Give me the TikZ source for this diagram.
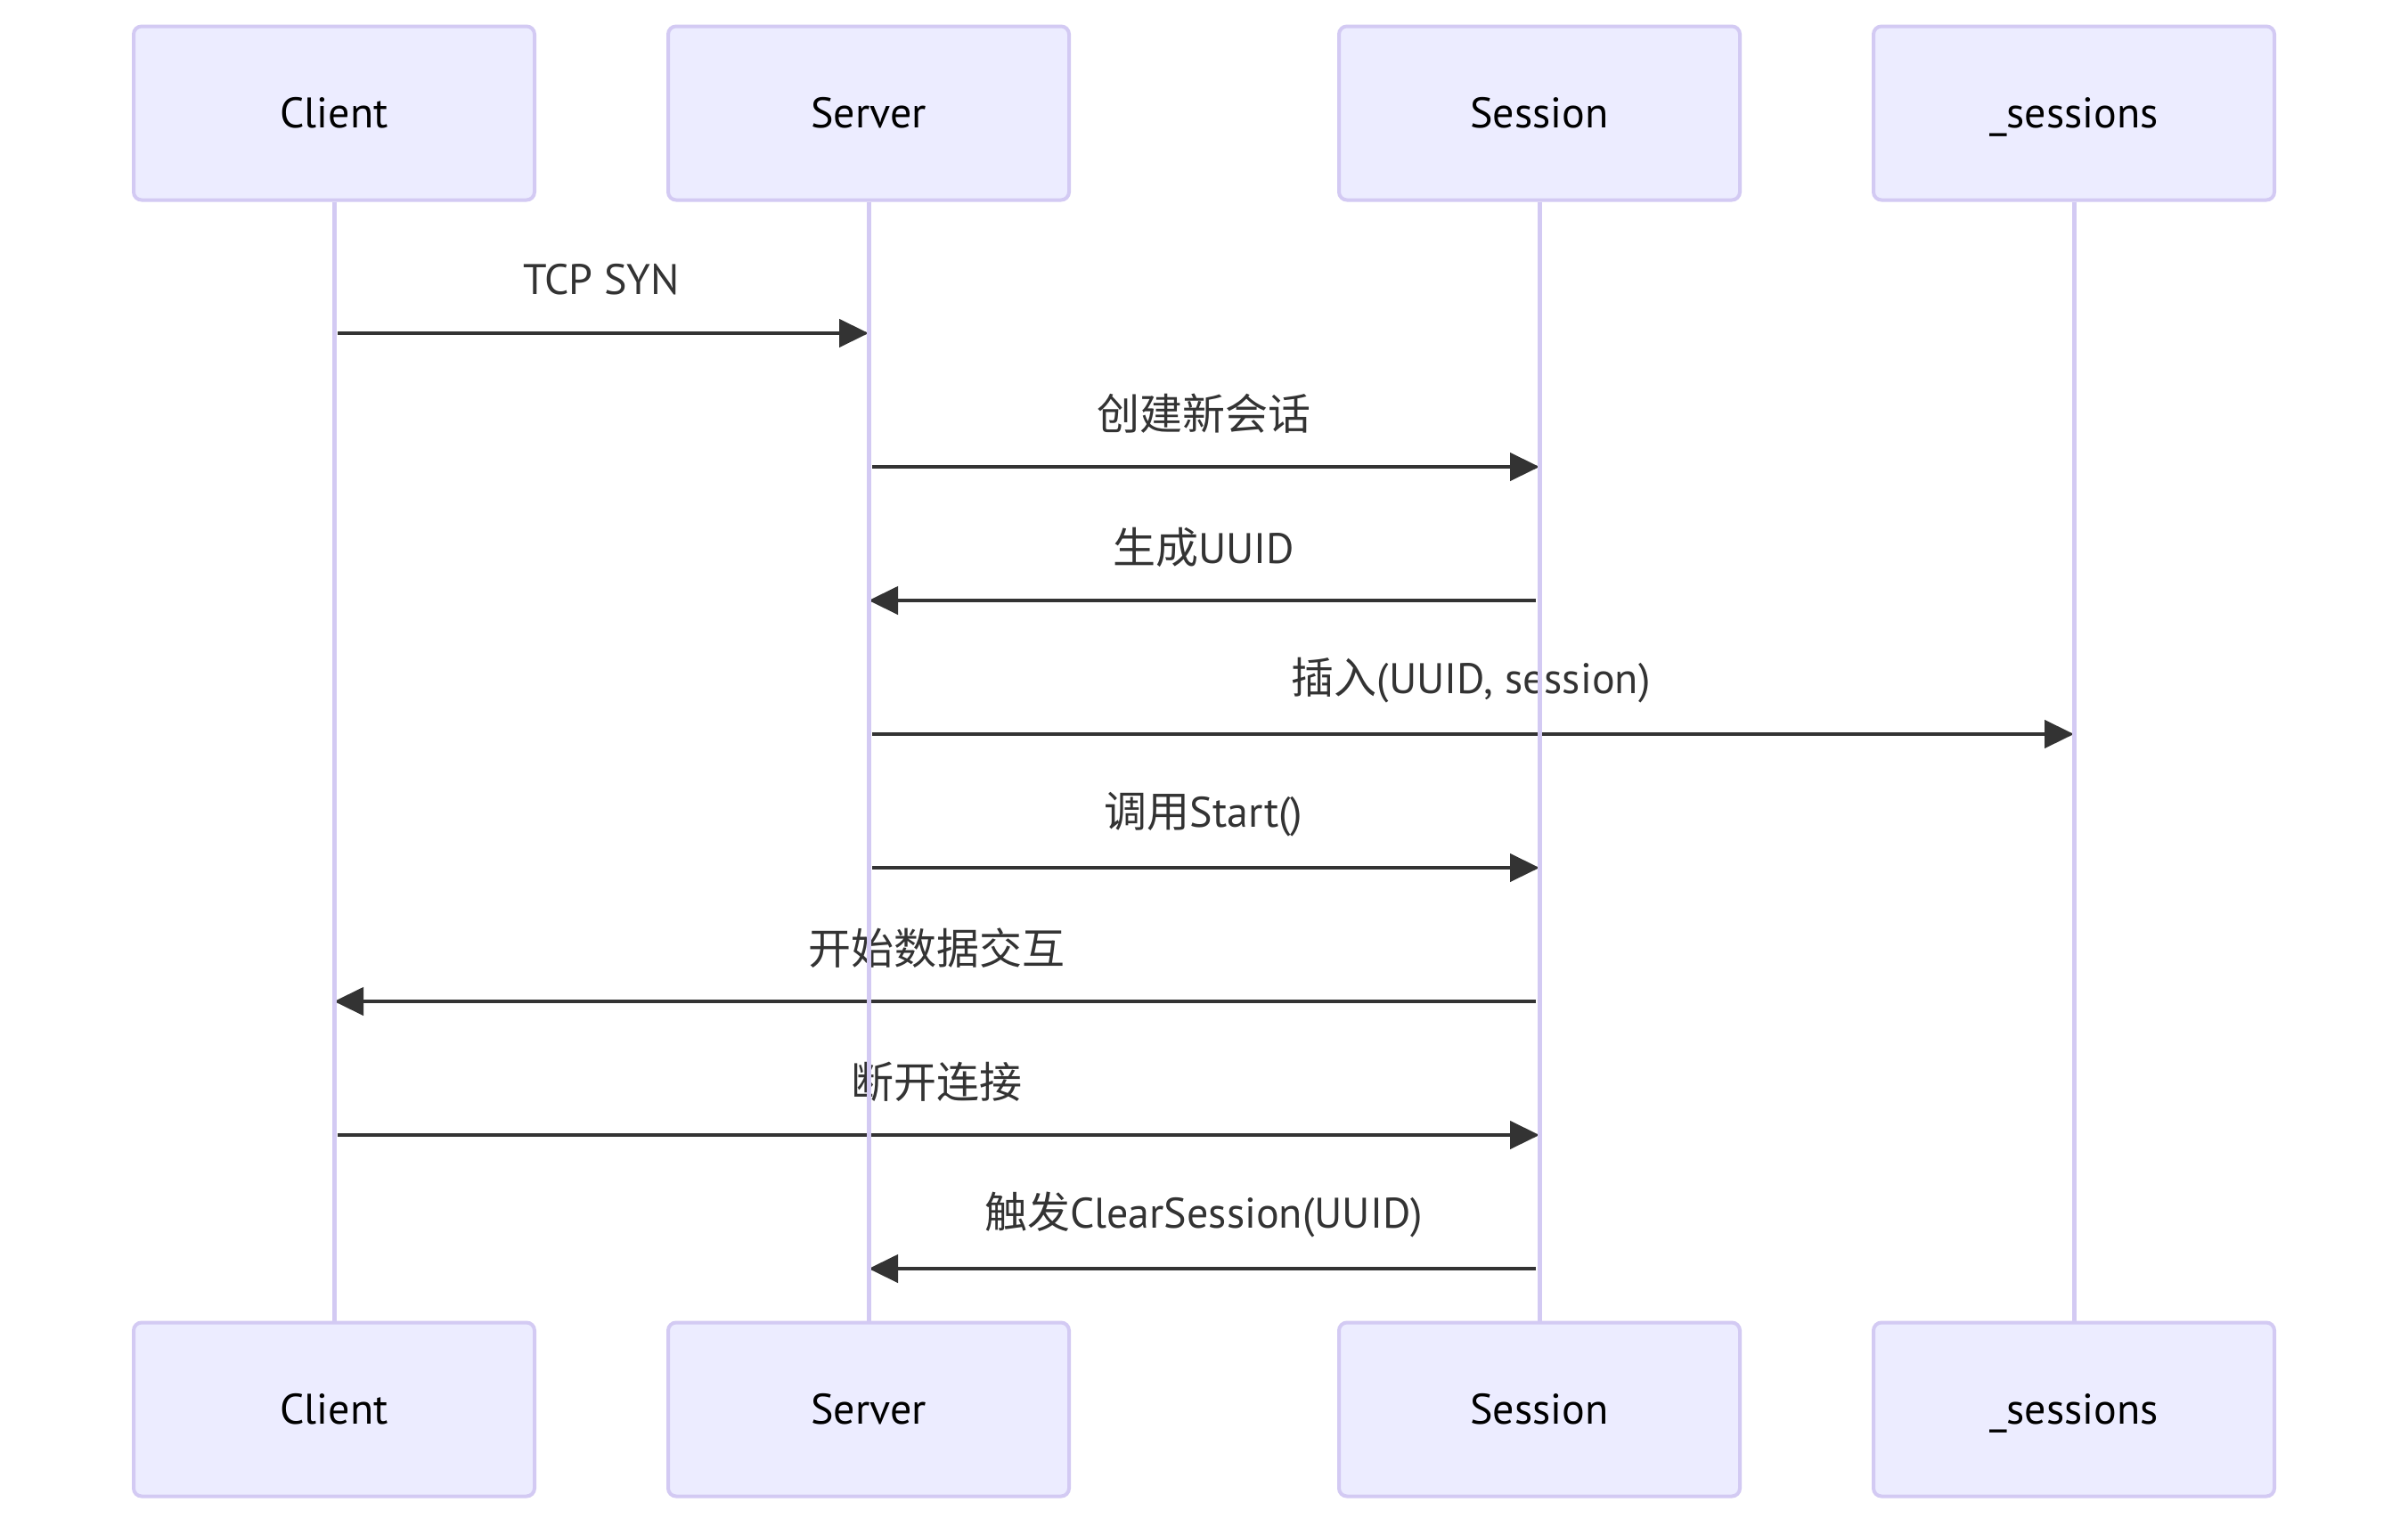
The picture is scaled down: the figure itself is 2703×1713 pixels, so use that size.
\documentclass[tikz,border=0pt]{standalone}
\usepackage{fontspec}
\setmainfont{PT Sans}
\newfontfamily\cjk{Noto Sans CJK SC}
\usetikzlibrary{arrows.meta}
\definecolor{actfill}{HTML}{ECECFF}
\definecolor{actline}{HTML}{D3CAF3}
\definecolor{msgcol}{HTML}{333333}
\tikzset{
  x=1pt,y=-1pt,
  actor/.style={draw=actline,line width=4pt,fill=actfill,rounded corners=9pt,minimum width=450pt,minimum height=195pt,inner sep=0pt,font=\fontsize{48}{58}\selectfont,text=black,text height=38pt,text depth=6pt},
  life/.style={draw=actline,line width=5pt},
  msg/.style={draw=msgcol,line width=4.5pt,-{Triangle[length=33pt,width=31pt]}},
  lbl/.style={font=\fontsize{48}{58}\selectfont,text=msgcol,inner sep=0pt}
}
\begin{document}
\begin{tikzpicture}
\useasboundingbox (0,0) rectangle (2703,1713);
\fill[white] (0,0) rectangle (2703,1713);
% actors top
\node[actor] (c1) at (375,127) {Client};
\node[actor] (s1) at (975,127) {Server};
\node[actor] (e1) at (1728,127) {Session};
\node[actor] (m1) at (2328,127) {\_sessions};
% actors bottom
\node[actor] (c2) at (375,1582) {Client};
\node[actor] (s2) at (975,1582) {Server};
\node[actor] (e2) at (1728,1582) {Session};
\node[actor] (m2) at (2328,1582) {\_sessions};
% message coordinates
\foreach \n/\y in {1/374,2/524,3/674,4/824,5/974,6/1124,7/1274,8/1424}{
  \coordinate (C\n) at (375,\y);
  \coordinate (S\n) at (975,\y);
  \coordinate (E\n) at (1728,\y);
  \coordinate (M\n) at (2328,\y);
}
\draw[msg] ([xshift=4pt]C1) -- (S1);
\node[lbl] (l1) at (675,314) {TCP SYN};
\draw[msg] ([xshift=4pt]S2) -- (E2);
\node[lbl] (l2) at (1351,464) {\cjk 创建新会话};
\draw[msg] ([xshift=-4pt]E3) -- (S3);
\node[lbl] (l3) at (1351,614) {{\cjk 生成}UUID};
\draw[msg] ([xshift=4pt]S4) -- (M4);
\node[lbl] (l4) at (1651,764) {{\cjk 插入}(UUID, session)};
\draw[msg] ([xshift=4pt]S5) -- (E5);
\node[lbl] (l5) at (1351,914) {{\cjk 调用}Start()};
\draw[msg] ([xshift=-4pt]E6) -- (C6);
\node[lbl] (l6) at (1051,1064) {\cjk 开始数据交互};
\draw[msg] ([xshift=4pt]C7) -- (E7);
\node[lbl] (l7) at (1051,1214) {\cjk 断开连接};
\draw[msg] ([xshift=-4pt]E8) -- (S8);
\node[lbl] (l8) at (1351,1364) {{\cjk 触发}ClearSession(UUID)};
% lifelines (drawn over messages, as in the reference)
\draw[life] (c1.south) -- (c2.north);
\draw[life] (s1.south) -- (s2.north);
\draw[life] (e1.south) -- (e2.north);
\draw[life] (m1.south) -- (m2.north);
\end{tikzpicture}
\end{document}
